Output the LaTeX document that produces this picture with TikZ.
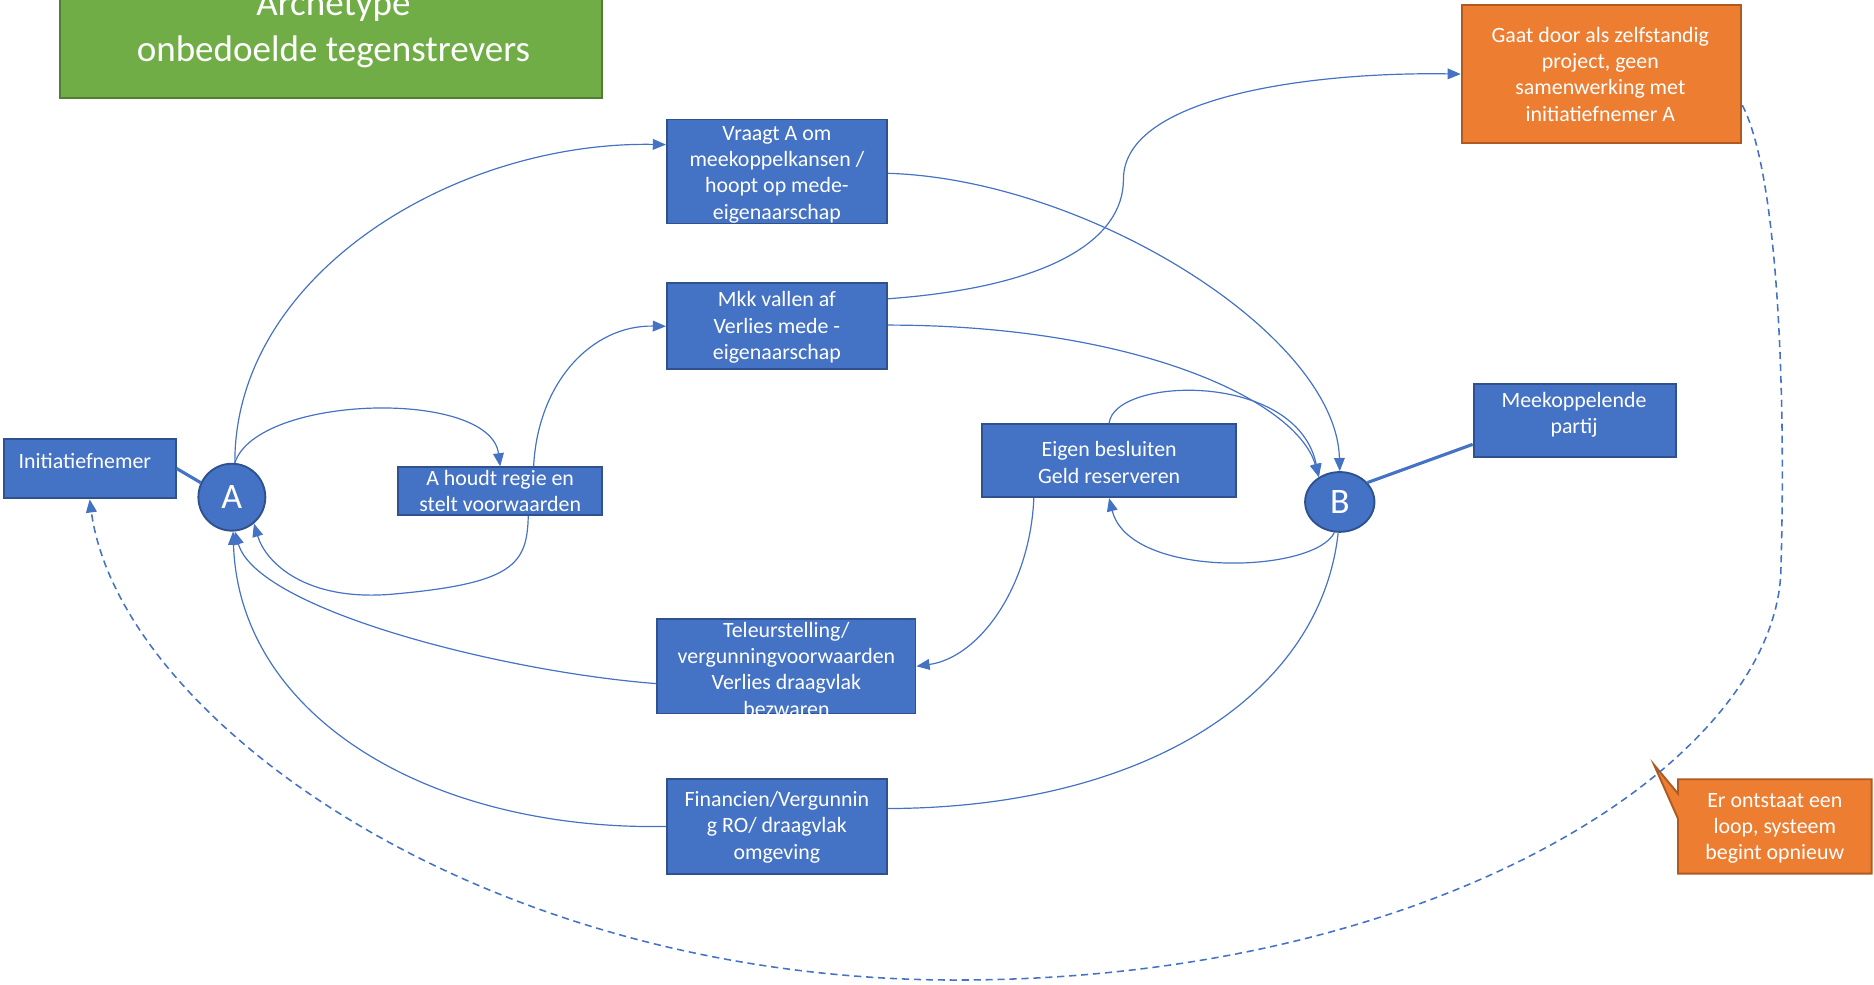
\documentclass[tikz,border=0pt]{standalone}
\usepackage{fontspec}
\setmainfont{Carlito}
\usetikzlibrary{arrows.meta,calc,shapes.geometric}

\definecolor{accblue}{HTML}{4472C4}
\definecolor{accblueedge}{HTML}{2F528F}
\definecolor{accorange}{HTML}{ED7D31}
\definecolor{accorangeedge}{HTML}{AE5A21}
\definecolor{accgreen}{HTML}{70AD47}
\definecolor{accgreenedge}{HTML}{507E32}

\tikzset{
  bluebox/.style={rectangle, draw=accblueedge, fill=accblue, line width=1.6pt, inner sep=0pt},
  orangebox/.style={rectangle, draw=accorangeedge, fill=accorange, line width=1.6pt, inner sep=0pt},
  greenbox/.style={rectangle, draw=accgreenedge, fill=accgreen, line width=1.6pt, inner sep=0pt},
  boxtext/.style={text=white, font=\fontsize{18.3}{22}\selectfont, align=center, inner sep=0pt},
  titletext/.style={text=white, font=\fontsize{31}{38}\selectfont, align=center, inner sep=0pt},
  actor/.style={ellipse, draw=accblueedge, fill=accblue, line width=1.6pt, inner sep=0pt,
    text=white, font=\fontsize{30}{36}\selectfont},
  flow/.style={draw=accblue, line width=1pt, -{Triangle[length=11pt,width=9pt]}},
  plainflow/.style={draw=accblue, line width=1pt},
  tie/.style={draw=accblue, line width=2.6pt},
  loopback/.style={draw=accblue, line width=1.3pt, dash pattern=on 6pt off 4pt,
    -{Triangle[length=11pt,width=9pt]}},
}

\begin{document}
\begin{tikzpicture}[x=1pt,y=-1pt]
\useasboundingbox (0,0) rectangle (1568,824);

% title
\node[greenbox, minimum width=454pt, minimum height=112pt] (titlebox) at (277,26) {};
\node[titletext] (title) at (279,24) {Archetype\\onbedoelde tegenstrevers};

% actors
\node[bluebox, minimum width=144pt, minimum height=50pt] (init) at (75,392) {};
\node[boxtext] (init-t) at (71,386) {Initiatiefnemer};
\node[actor, minimum width=56pt, minimum height=56pt] (A) at (194,416) {A};
\node[actor, minimum width=58pt, minimum height=50pt] (B) at (1121,420) {B};
\node[bluebox, minimum width=169pt, minimum height=61pt] (meek) at (1317.5,351.5) {};
\node[boxtext] (meek-t) at (1317,347) {Meekoppelende\\partij};

% steps
\node[bluebox, minimum width=184pt, minimum height=87pt] (vraagt) at (650,143.5) {};
\begin{scope}
  \clip (vraagt.north west) rectangle (vraagt.south east);
  \node[boxtext] (vraagt-t) at (650,146) {Vraagt A om\\meekoppelkansen /\\hoopt op mede-\\eigenaarschap};
\end{scope}
\node[bluebox, minimum width=184pt, minimum height=72pt] (mkk) at (650,273) {};
\node[boxtext] (mkk-t) at (650,274) {Mkk vallen af\\Verlies mede -\\eigenaarschap};
\node[bluebox, minimum width=171pt, minimum height=40pt] (houdt) at (418.5,411) {};
\node[boxtext] (houdt-t) at (418.5,411) {A houdt regie en\\stelt voorwaarden};
\node[bluebox, minimum width=212pt, minimum height=61pt] (eigen) at (928,385.5) {};
\node[boxtext] (eigen-t) at (928,387) {Eigen besluiten\\Geld reserveren};
\node[bluebox, minimum width=216pt, minimum height=79pt] (teleur) at (658,557.5) {};
\begin{scope}
  \clip (teleur.north west) rectangle (teleur.south east);
  \node[boxtext] (teleur-t) at (658,560) {Teleurstelling/\\vergunningvoorwaarden\\Verlies draagvlak\\bezwaren};
\end{scope}
\node[bluebox, minimum width=184pt, minimum height=79pt] (fin) at (650,691.5) {};
\node[boxtext] (fin-t) at (650,692) {Financien/Vergunnin\\g RO/ draagvlak\\omgeving};

% outcome and callout
\node[orangebox, minimum width=234pt, minimum height=116pt] (gaat) at (1340,62) {};
\node[boxtext] (gaat-t) at (1339,62) {Gaat door als zelfstandig\\project, geen\\samenwerking met\\initiatiefnemer A};
\draw[draw=accorangeedge, fill=accorange, line width=1.6pt]
  (1404,652) -- (1566,652) -- (1566,731) -- (1404,731) -- (1404,685)
  -- (1384,640) -- (1404,664) -- cycle;
\node[boxtext] (erloop) at (1485,693) {Er ontstaat een\\loop, systeem\\begint opnieuw};

% links between actors and boxes
\draw[tie] (init.east) -- (A.155);
\draw[tie] (B.35) -- ($(meek.south west)+(0,-11)$);

% flows
\draw[flow] (A.85) .. controls (196,230) and (380,118) .. ($(vraagt.west)+(0,-22.5)$);
\draw[flow] (A.85) .. controls (215,330) and (410,325) .. (houdt.north);
\draw[flow] ($(houdt.north)+(28,0)$) .. controls (450,320) and (495,272) .. (mkk.west);
\draw[flow] ($(houdt.south)+(23.5,0)$) .. controls (441,472) and (430,488) .. (330,497)
  .. controls (255,504) and (222,470) .. (A.-50);
\draw[flow] ($(teleur.west)+(0,14.5)$) .. controls (420,562) and (215,510) .. (A.-85);
\draw[flow] (fin.west) .. controls (360,695) and (200,600) .. (A.-88);
\draw[flow] ($(vraagt.east)+(0,1.5)$) .. controls (910,150) and (1118,280) .. (B.north);
\draw[flow] ($(mkk.east)+(0,-1)$) .. controls (950,272) and (1085,335) .. (B.130);
\draw[flow] ($(mkk.east)+(0,-23)$) .. controls (880,240) and (940,200) .. (940,150)
  .. controls (940,80) and (1100,60) .. (gaat.west);
\draw[flow] (eigen.north) .. controls (932,315) and (1085,310) .. (B.130);
\draw[flow] (B.-100) .. controls (1100,480) and (945,485) .. (eigen.south);
\draw[flow] ($(eigen.south)+(-63,0)$) .. controls (862,490) and (820,550) .. (teleur.east);
\draw[plainflow] (B.-93) .. controls (1105,580) and (960,676) .. ($(fin.east)+(0,-15)$);

% the loop back to the initiator
\draw[loopback] ($(gaat.east)+(0,26)$) .. controls (1490,150) and (1494,350) .. (1490,480)
  .. controls (1482,640) and (1200,820) .. (800,820)
  .. controls (400,820) and (100,600) .. (init.south);
\end{tikzpicture}
\end{document}
